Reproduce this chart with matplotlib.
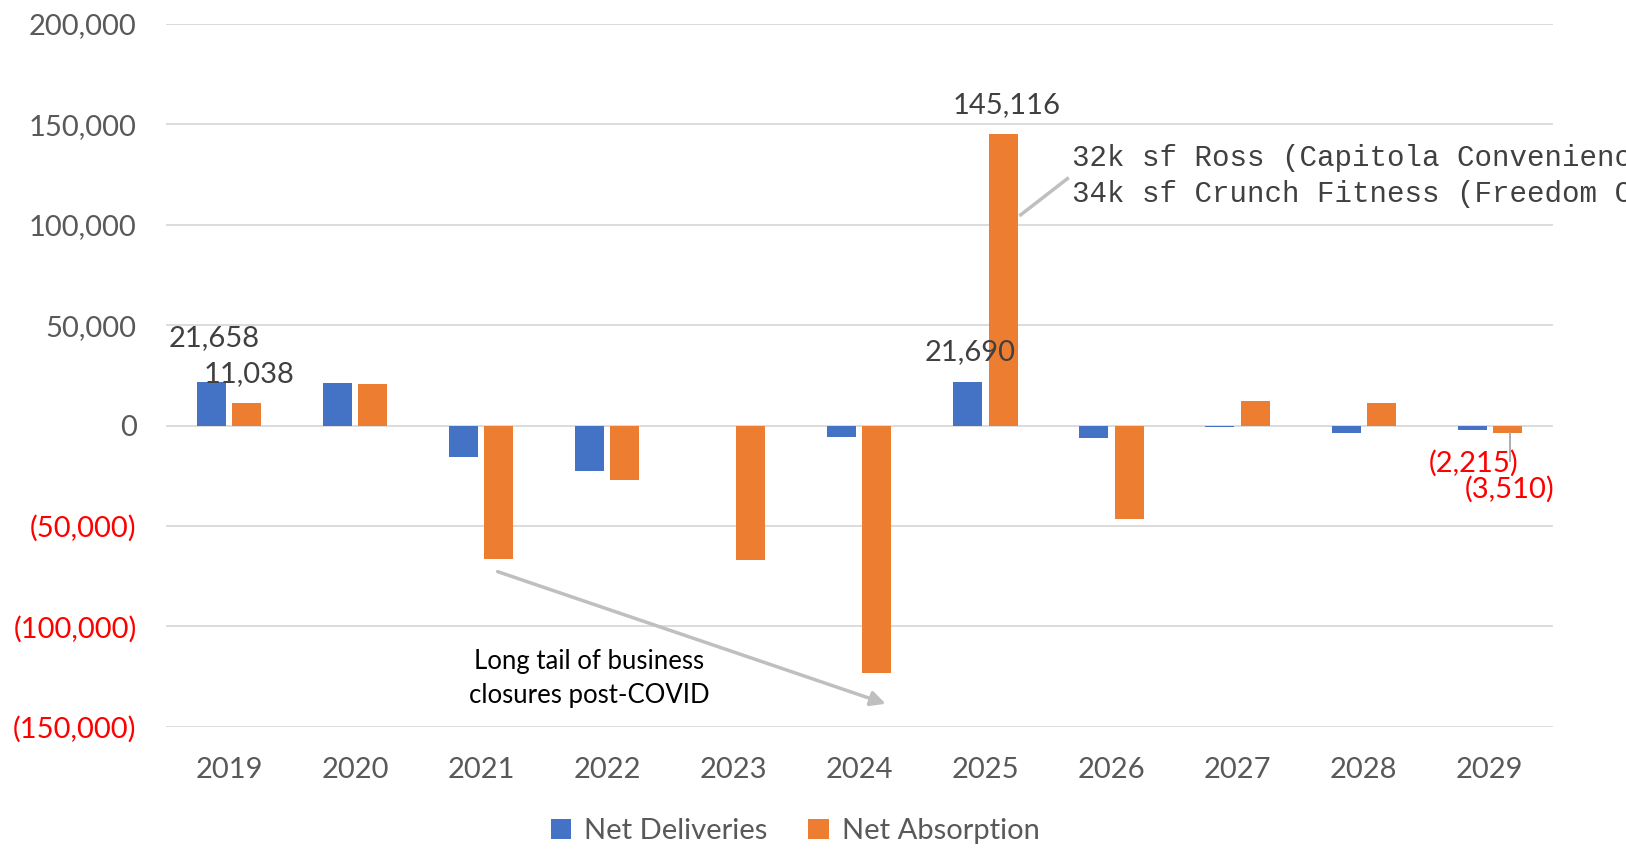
import numpy as np
import matplotlib.pyplot as plt
from matplotlib.ticker import FuncFormatter

plt.rcParams["font.family"] = ["Lato", "DejaVu Sans"]

years = ["2019", "2020", "2021", "2022", "2023", "2024",
         "2025", "2026", "2027", "2028", "2029"]
net_deliveries = [21658, 21200, -15500, -22700, 0, -5700,
                  21690, -6200, -500, -3600, -2215]
net_absorption = [11038, 20700, -66600, -26900, -67100, -123000,
                  145116, -46500, 12400, 11400, -3510]

blue = "#4472C4"
orange = "#ED7D31"
grey_txt = "#595959"
dark_txt = "#404040"

fig = plt.figure(figsize=(16.26, 8.51), dpi=100)
ax = fig.add_axes([0.102, 0.146, 0.853, 0.826])

x = np.arange(len(years))
w = 0.23
ax.bar(x - 0.14, net_deliveries, w, color=blue, label="Net Deliveries", zorder=3)
ax.bar(x + 0.14, net_absorption, w, color=orange, label="Net Absorption", zorder=3)

ax.set_xlim(-0.5, len(years) - 0.5)
ax.set_ylim(-150000, 200000)
ax.set_yticks(np.arange(-150000, 200001, 50000))
ax.yaxis.set_major_formatter(FuncFormatter(
    lambda v, p: f"({abs(v):,.0f})" if v < 0 else f"{v:,.0f}"))
ax.set_xticks(x)
ax.set_xticklabels(years)
ax.grid(axis="y", color="#D9D9D9", lw=1.3, zorder=0)
for s in ax.spines.values():
    s.set_visible(False)
ax.tick_params(length=0, labelsize=21, colors=grey_txt)
ax.tick_params(axis="y", pad=21)
ax.tick_params(axis="x", pad=22)
for lbl, v in zip(ax.get_yticklabels(), ax.get_yticks()):
    if v < 0:
        lbl.set_color("red")

# data labels
lab = dict(fontsize=21, color=dark_txt, ha="center", va="center")
ax.text(-0.12, 43400, f"{net_deliveries[0]:,}", **lab)
ax.text(0.16, 25800, f"{net_absorption[0]:,}", **lab)
ax.text(6.17, 159600, f"{net_absorption[6]:,}", **lab)
ax.text(5.875, 36700, f"{net_deliveries[6]:,}", **lab)
lab["color"] = "red"
ax.text(9.87, -18600, f"({abs(net_deliveries[10]):,})", **lab)
ax.text(10.16, -32000, f"({abs(net_absorption[10]):,})", **lab)
ax.plot([10.16, 10.16], [net_absorption[10], -17500], color="#A6A6A6", lw=1.3, zorder=4)

# callouts (text runs past the right edge)
ax.plot([6.28, 6.65], [104900, 122900], color="#BFBFBF", lw=2.5, zorder=4)
mono = dict(family="Liberation Mono", fontsize=21, color=dark_txt,
            va="center", ha="left", clip_on=False)
ax.text(6.69, 133300, "32k sf Ross (Capitola Convenience Center)", **mono)
ax.text(6.69, 115200, "34k sf Crunch Fitness (Freedom Centre)", **mono)

ax.annotate("", xy=(5.23, -139000), xytext=(2.11, -72300),
            arrowprops=dict(arrowstyle="-|>", color="#BFBFBF", lw=2.5,
                            mutation_scale=22), zorder=4)
ax.text(2.86, -126000, "Long tail of business\nclosures post-COVID",
        fontsize=18.5, color="black", ha="center", va="center", linespacing=1.45)

fig.legend(loc="center", bbox_to_anchor=(0.489, 20 / 851), ncol=2, frameon=False,
           fontsize=21, labelcolor=grey_txt, handlelength=0.7, handleheight=0.7,
           handletextpad=0.45, columnspacing=1.4, borderaxespad=0, borderpad=0)

fig.savefig("out.png", dpi=100)
